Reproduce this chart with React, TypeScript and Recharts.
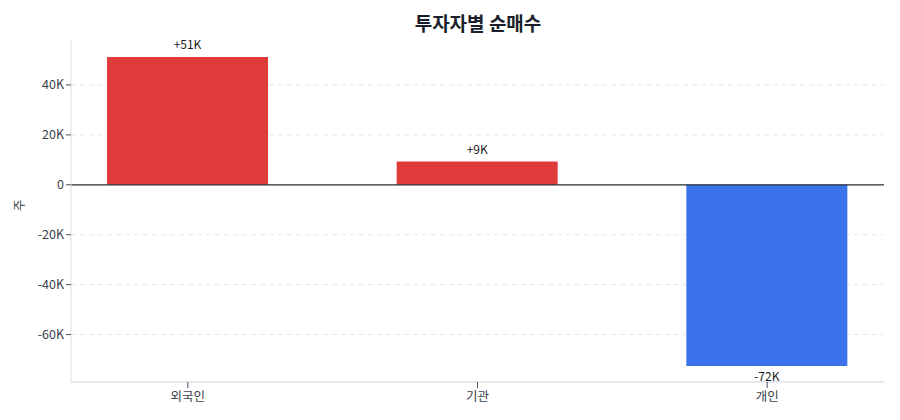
import { BarChart, Bar, XAxis, YAxis, CartesianGrid, ReferenceLine, LabelList, Cell } from "recharts";

const investors = ["외국인", "기관", "개인"];
const netBuy = [51200, 9300, -72600];
const yTicks = [-60000, -40000, -20000, 0, 20000, 40000];

const data = investors.map((name, i) => ({ name, value: netBuy[i] }));

const FONT = "'Noto Sans CJK KR', 'Noto Sans', sans-serif";
const UP = "#E03B3B";
const DOWN = "#3B73EC";

const formatK = (v: number) => (v === 0 ? "0" : `${v / 1000}K`);
const formatSigned = (v: number) => {
  const k = Math.trunc(v / 1000);
  return v >= 0 ? `+${k}K` : `${k}K`;
};

const ValueLabel = (props: any) => {
  const { x, y, width, height, value } = props;
  const top = Math.min(y, y + height);
  const bottom = Math.max(y, y + height);
  const cx = x + width / 2;
  const pos = value >= 0;
  return (
    <text
      x={cx}
      y={pos ? top - 8 : bottom + 15}
      textAnchor="middle"
      fontSize={12}
      fill="#1a1a1a"
      fontFamily={FONT}
    >
      {formatSigned(value)}
    </text>
  );
};

export default function App() {
  return (
    <div style={{ position: "absolute", left: 0, top: 0, width: 900, height: 420, background: "#fff", fontFamily: FONT }}>
      <div
        style={{
          position: "absolute",
          left: 0,
          width: 956,
          top: 9,
          textAlign: "center",
          fontSize: 19,
          fontWeight: 700,
          color: "#1a1f2b",
        }}
      >
        투자자별 순매수
      </div>
      <BarChart
        width={900}
        height={420}
        data={data}
        margin={{ top: 40, right: 16, bottom: 8, left: 0 }}
        barSize={161}
      >
        <CartesianGrid strokeDasharray="5 4" stroke="#e5e7eb" vertical={false} syncWithTicks />
        <XAxis
          dataKey="name"
          height={30}
          padding={{ left: -28, right: -28 }}
          tick={{ fill: "#3a3f4b", fontSize: 12.5, fontFamily: FONT }}
          tickLine={{ stroke: "#4a4f5b" }}
          tickSize={6}
          tickMargin={4}
          axisLine={{ stroke: "#cfd4dc" }}
        />
        <YAxis
          width={71}
          domain={[-79000, 58000]}
          ticks={yTicks}
          allowDataOverflow
          tickFormatter={formatK}
          tick={{ fill: "#3a3f4b", fontSize: 12.5, fontFamily: FONT }}
          tickLine={{ stroke: "#4a4f5b" }}
          tickSize={5}
          axisLine={{ stroke: "#dde1e7" }}
          label={{ value: "주", angle: -90, position: "insideLeft", offset: 20, fill: "#3a3f4b", fontSize: 12.5, fontFamily: FONT }}
        />
        <ReferenceLine y={0} stroke="#2b2f38" strokeWidth={1.2} />
        <Bar dataKey="value" isAnimationActive={false}>
          {data.map((d) => (
            <Cell key={d.name} fill={d.value >= 0 ? UP : DOWN} />
          ))}
          <LabelList dataKey="value" content={<ValueLabel />} />
        </Bar>
      </BarChart>
    </div>
  );
}
